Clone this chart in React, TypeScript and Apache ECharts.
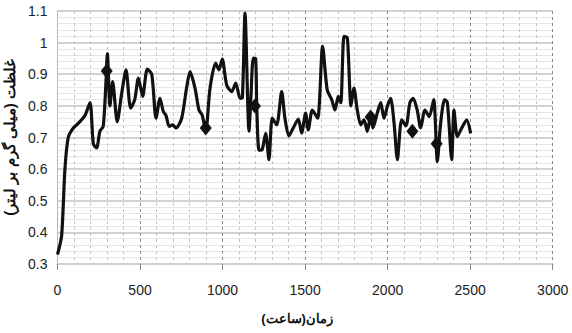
import React, { useEffect, useRef } from "react";
import * as echarts from "echarts";

const hours = [0, 25, 45, 65, 96, 136, 167, 197, 217, 237, 257, 277, 294, 302, 318, 334, 362, 389, 415, 443, 468, 490, 516, 544, 571, 597, 621, 641, 657, 677, 698, 718, 752, 783, 803, 833, 857, 877, 898, 924, 958, 978, 998, 1025, 1055, 1080, 1106, 1120, 1136, 1160, 1172, 1186, 1200, 1207, 1221, 1240, 1261, 1281, 1301, 1328, 1358, 1378, 1402, 1428, 1459, 1479, 1503, 1519, 1544, 1576, 1606, 1634, 1661, 1681, 1701, 1716, 1736, 1756, 1778, 1796, 1816, 1837, 1857, 1877, 1897, 1911, 1937, 1958, 1978, 1999, 2018, 2039, 2059, 2085, 2111, 2135, 2155, 2179, 2200, 2226, 2252, 2279, 2301, 2321, 2345, 2362, 2388, 2402, 2422, 2449, 2479, 2503];
const concentration = [0.33, 0.39, 0.6, 0.7, 0.73, 0.75, 0.77, 0.81, 0.68, 0.667, 0.72, 0.735, 0.88, 0.965, 0.8, 0.877, 0.75, 0.84, 0.914, 0.793, 0.82, 0.888, 0.83, 0.916, 0.9, 0.761, 0.824, 0.782, 0.77, 0.735, 0.74, 0.73, 0.76, 0.86, 0.908, 0.856, 0.787, 0.77, 0.72, 0.856, 0.935, 0.914, 0.948, 0.866, 0.845, 0.872, 0.824, 0.826, 1.093, 0.72, 0.83, 0.951, 0.95, 0.8, 0.66, 0.662, 0.713, 0.63, 0.761, 0.74, 0.845, 0.76, 0.705, 0.73, 0.758, 0.714, 0.777, 0.724, 0.787, 0.761, 0.988, 0.85, 0.82, 0.787, 0.83, 0.81, 1.02, 1.015, 0.8, 0.856, 0.787, 0.74, 0.756, 0.719, 0.77, 0.73, 0.777, 0.81, 0.761, 0.8, 0.824, 0.745, 0.63, 0.756, 0.737, 0.81, 0.824, 0.787, 0.73, 0.787, 0.766, 0.82, 0.624, 0.745, 0.82, 0.81, 0.63, 0.787, 0.703, 0.73, 0.756, 0.713];

const markerHours = [298, 898, 1196, 1897, 2150, 2297];
const markerValues = [0.91, 0.73, 0.8, 0.765, 0.72, 0.68];

const xTitle = "زمان(ساعت)";
const yTitle = "غلظت (میلی گرم بر لیتر)";

export default function App() {
  const ref = useRef<HTMLDivElement>(null);
  useEffect(() => {
    if (!ref.current) return;
    const chart = echarts.init(ref.current, null, { renderer: "svg" });
    const font = "'Liberation Sans', Arial, sans-serif";
    chart.setOption({
      animation: false,
      backgroundColor: "#fff",
      grid: { left: 57.5, right: 19.3, top: 11, bottom: 69, containLabel: false, outerBoundsMode: "none" },
      xAxis: {
        type: "value",
        min: 0,
        max: 3000,
        interval: 500,
        name: xTitle,
        nameLocation: "middle",
        nameGap: 48,
        nameTextStyle: { fontFamily: font, fontWeight: "bold", fontSize: 13, color: "#111", padding: [0, 16, 0, 0] },
        axisLine: { show: true, lineStyle: { color: "#cfcfcf", width: 2 } },
        axisTick: { show: true, length: 6, lineStyle: { color: "#888" } },
        axisLabel: { margin: 19, fontFamily: font, fontSize: 14, color: "#222", formatter: (v: number) => String(v) },
        splitLine: { show: true, lineStyle: { color: "#8a8a8a", type: [3, 3], width: 1 } },
        minorTick: { show: false, splitNumber: 5 },
        minorSplitLine: { show: true, lineStyle: { color: "#c4c4c4", type: [3, 3], width: 1 } },
      },
      yAxis: {
        type: "value",
        min: 0.3,
        max: 1.1,
        interval: 0.1,
        name: yTitle,
        nameLocation: "middle",
        nameGap: 36,
        nameRotate: 90,
        nameTextStyle: { fontFamily: font, fontWeight: "bold", fontSize: 15, color: "#111" },
        axisLine: { show: true, lineStyle: { color: "#b8b8b8", width: 1 } },
        axisTick: { show: false },
        axisLabel: { margin: 10, fontFamily: font, fontSize: 14, color: "#222" },
        splitLine: { show: true, lineStyle: { color: "#d2d2d2", width: 2 } },
        minorTick: { show: false, splitNumber: 5 },
        minorSplitLine: { show: true, lineStyle: { color: "#e6e6e6", width: 1 } },
      },
      series: [
        {
          type: "line",
          data: hours.map((h, i) => [h, concentration[i]]),
          showSymbol: false,
          smooth: 0.25,
          lineStyle: { color: "#111", width: 3.2 },
          z: 3,
        },
        {
          type: "scatter",
          data: markerHours.map((h, i) => [h, markerValues[i]]),
          symbol: "diamond",
          symbolSize: [12, 15],
          itemStyle: { color: "#111", opacity: 1 },
          z: 4,
        },
      ],
    });
    return () => chart.dispose();
  }, []);
  return <div ref={ref} style={{ width: 572, height: 333, position: "absolute", left: 0, top: 0 }} />;
}
